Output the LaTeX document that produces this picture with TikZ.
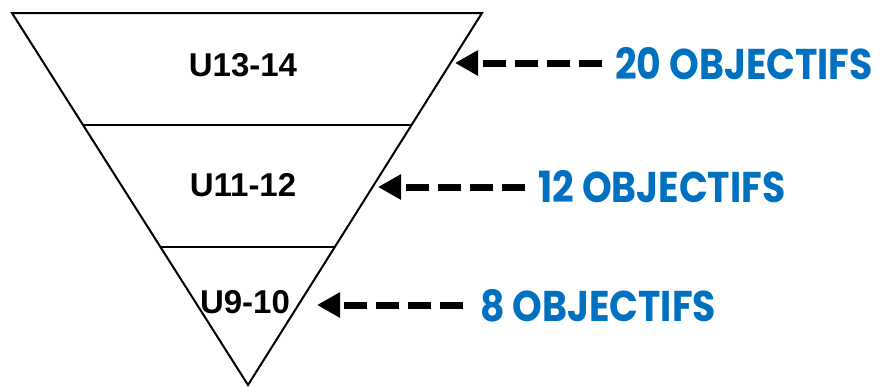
\documentclass[tikz,border=0pt]{standalone}
\usepackage{fontspec}
\usetikzlibrary{arrows.meta,calc}
\newfontfamily\lblfont{Liberation Sans}
\newfontfamily\objfont[FakeStretch=0.88]{Poppins}
\definecolor{objblue}{HTML}{0070C0}
\tikzset{
  layer/.style={draw=black,line width=2pt},
  agelabel/.style={font=\lblfont\bfseries\fontsize{33}{36}\selectfont,text=black,inner sep=0pt},
  objlabel/.style={font=\objfont\bfseries\fontsize{43}{46}\selectfont,text=objblue,inner sep=0pt,anchor=west},
  pointer/.style={draw=black,line width=7pt,dash pattern=on 23pt off 9pt,-{Triangle[length=23pt,width=24pt]}}
}
\begin{document}
\begin{tikzpicture}[x=1pt,y=-1pt]
\useasboundingbox (0,0) rectangle (887,386);
\coordinate (TL) at (12,13);
\coordinate (TR) at (482,13);
\coordinate (AP) at (248,385);
\draw[layer,line join=miter] (TL) -- (TR) -- (AP) -- cycle;
\coordinate (L1) at ($(TL)!0.301!(AP)$);
\coordinate (R1) at ($(TR)!0.301!(AP)$);
\coordinate (L2) at ($(TL)!0.630!(AP)$);
\coordinate (R2) at ($(TR)!0.630!(AP)$);
\draw[layer] (L1) -- (R1);
\draw[layer] (L2) -- (R2);
\node[agelabel] (u13) at (243,65) {U13-14};
\node[agelabel] (u11) at (243,185) {U11-12};
\node[agelabel] (u9) at (245,302) {U9-10};
\node[objlabel] (o20) at (615,64) {20 OBJECTIFS};
\node[objlabel] (o12) at (538,187) {12 OBJECTIFS};
\node[objlabel] (o8) at (480,306) {8 OBJECTIFS};
\coordinate (t20) at (455,63);
\coordinate (t12) at (378,187);
\coordinate (t8) at (317,305);
\draw[pointer] (o20.west |- t20) ++(-13,0) -- (t20);
\draw[pointer] (o12.west |- t12) ++(-13,0) -- (t12);
\draw[pointer] (o8.west |- t8) ++(-17,0) -- (t8);
\end{tikzpicture}
\end{document}
